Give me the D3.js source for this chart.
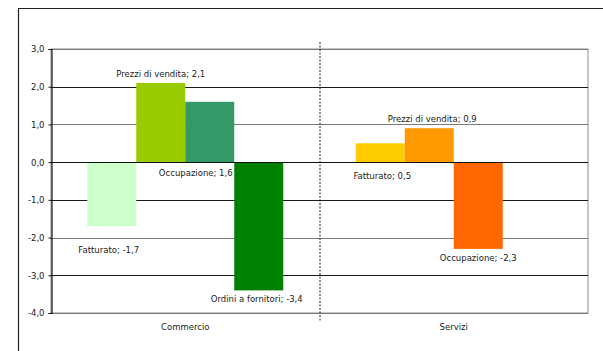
<!DOCTYPE html>
<html>
<head>
<meta charset="utf-8">
<script src="https://cdn.jsdelivr.net/npm/d3@7"></script>
<style>
  html, body { margin: 0; padding: 0; background: #fff; }
  svg { display: block; }
  text { font-family: "DejaVu Sans", Verdana, sans-serif; font-size: 8.5px; fill: #1a1a1a; }
</style>
</head>
<body>
<svg id="chart" width="603" height="351"></svg>
<script>
// Sectors and indicators
const sectors = ["Commercio", "Servizi"];
const indicators = ["Fatturato", "Prezzi di vendita", "Occupazione", "Ordini a fornitori"];

// Balance values per sector (null = not surveyed)
const commercioValues = [-1.7, 2.1, 1.6, -3.4];
const serviziValues = [0.5, 0.9, -2.3, null];

// Bar fills per sector
const commercioColors = ["#CCFFCC", "#99CC00", "#339966", "#008000"];
const serviziColors = ["#FFCC00", "#FF9900", "#FF6600", "#FF3300"];

// Y axis ticks
const yTicks = [-4, -3, -2, -1, 0, 1, 2, 3];

const seriesBySector = [commercioValues, serviziValues];
const colorsBySector = [commercioColors, serviziColors];

// Label nudges (dx, dy) relative to the default spot just beyond the bar end
const labelNudge = {
  "Commercio|Fatturato": [-3, 15],
  "Commercio|Prezzi di vendita": [0, 0],
  "Commercio|Occupazione": [-14, 80],
  "Commercio|Ordini a fornitori": [-2, 0],
  "Servizi|Fatturato": [2, 42],
  "Servizi|Prezzi di vendita": [3, 0],
  "Servizi|Occupazione": [0, 0]
};

const it = d3.formatLocale({ decimal: ",", thousands: ".", grouping: [3], currency: ["€", ""], minus: "-" });
const fmt = it.format(".1f");

const svg = d3.select("#chart");
const plotL = 51, plotR = 588, plotT = 49, plotB = 313;

const y = d3.scaleLinear().domain([-4, 3]).range([plotB, plotT]);
const x0 = d3.scaleBand().domain(sectors).range([plotL, plotR]);
const x1 = d3.scaleBand().domain(indicators)
  .range([0, x0.bandwidth()]).paddingOuter(0.74).paddingInner(0);

// Outer frame (top and left edges)
svg.append("line").attr("x1", 18).attr("x2", 603).attr("y1", 8.5).attr("y2", 8.5)
  .attr("stroke", "#222").attr("stroke-width", 1.2);
svg.append("line").attr("x1", 18.5).attr("x2", 18.5).attr("y1", 8).attr("y2", 351)
  .attr("stroke", "#222").attr("stroke-width", 1.2);

// Plot area border (right, top)
svg.append("rect").attr("x", plotL).attr("y", plotT).attr("width", plotR - plotL).attr("height", plotB - plotT)
  .attr("fill", "none").attr("stroke", "#8a8a8a").attr("stroke-width", 1);

// Gridlines
svg.append("g").selectAll("line").data(yTicks).join("line")
  .attr("x1", plotL).attr("x2", plotR)
  .attr("y1", d => Math.round(y(d)) + 0.5).attr("y2", d => Math.round(y(d)) + 0.5)
  .attr("stroke", d => (d === 0 || d === 2 || d === -1 || d === -3) ? "#1a1a1a" : "#7a7a7a")
  .attr("stroke-width", 1);

// Sector separator
svg.append("line")
  .attr("x1", x0("Servizi") + 0.5).attr("x2", x0("Servizi") + 0.5)
  .attr("y1", 42).attr("y2", 322)
  .attr("stroke", "#222").attr("stroke-width", 1).attr("stroke-dasharray", "2,1.5");

// Bars
const barData = [];
sectors.forEach((s, si) => {
  indicators.forEach((k, ki) => {
    const v = seriesBySector[si][ki];
    if (v !== null) barData.push({ sector: s, key: k, value: v, color: colorsBySector[si][ki] });
  });
});

svg.append("g").selectAll("rect").data(barData).join("rect")
  .attr("x", d => x0(d.sector) + x1(d.key))
  .attr("width", x1.bandwidth())
  .attr("y", d => y(Math.max(0, d.value)))
  .attr("height", d => Math.abs(y(d.value) - y(0)))
  .attr("fill", d => d.color);

// Zero line drawn over the bars
svg.append("line").attr("x1", plotL).attr("x2", plotR)
  .attr("y1", Math.round(y(0)) + 0.5).attr("y2", Math.round(y(0)) + 0.5)
  .attr("stroke", "#111").attr("stroke-width", 1);

// Y axis
const yAxis = d3.axisLeft(y).tickValues(yTicks).tickSize(3).tickFormat(fmt);
const ag = svg.append("g").attr("transform", `translate(${plotL + 0.5},0)`).call(yAxis);
ag.select(".domain").attr("stroke", "#111").attr("stroke-width", 1.2);
ag.selectAll(".tick line").attr("stroke", "#111");
ag.selectAll(".tick text").attr("x", -7).attr("dy", "0.34em")
  .style("font-family", "\"DejaVu Sans\", Verdana, sans-serif").style("font-size", "8.5px").attr("fill", "#1a1a1a");

// Category labels
svg.append("g").selectAll("text").data(sectors).join("text")
  .attr("x", d => x0(d) + x0.bandwidth() / 2)
  .attr("y", 327).attr("dy", "0.35em")
  .attr("text-anchor", "middle")
  .text(d => d);

// Data labels
svg.append("g").selectAll("text").data(barData).join("text")
  .attr("x", d => x0(d.sector) + x1(d.key) + x1.bandwidth() / 2 + labelNudge[d.sector + "|" + d.key][0])
  .attr("y", d => y(d.value) + (d.value >= 0 ? -9 : 9) + labelNudge[d.sector + "|" + d.key][1])
  .attr("dy", "0.35em")
  .attr("text-anchor", "middle")
  .text(d => `${d.key}; ${fmt(d.value)}`);
</script>
</body>
</html>
